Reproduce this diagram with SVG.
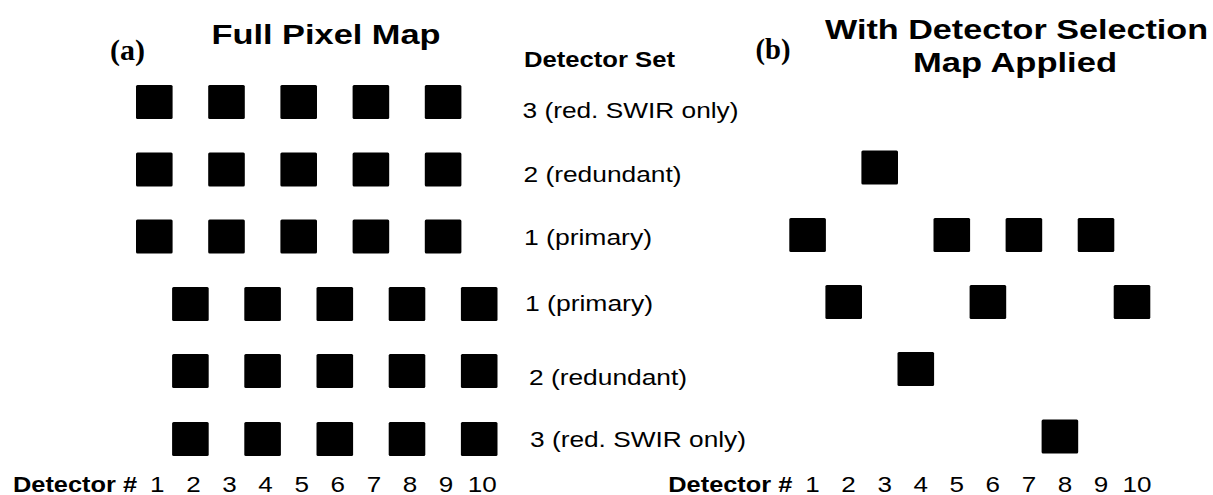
<svg xmlns="http://www.w3.org/2000/svg" width="1213" height="495" viewBox="0 0 1213 495">
  <style>
    .px { fill: #000; }
    .title { font-family: "Liberation Sans", Arial, sans-serif; font-weight: bold; font-size: 28px; fill: #000; }
    .tag { font-family: "Liberation Serif", "Times New Roman", serif; font-weight: bold; font-size: 29px; fill: #000; }
    .head { font-family: "Liberation Sans", Arial, sans-serif; font-weight: bold; font-size: 22px; fill: #000; }
    .lbl { font-family: "Liberation Sans", Arial, sans-serif; font-size: 22px; fill: #000; }
    .num { font-family: "Liberation Sans", Arial, sans-serif; font-size: 22px; fill: #000; text-anchor: middle; }
  </style>
  <defs>
    <rect id="pix" width="36.6" height="34" rx="1.5" ry="1.5"/>
  </defs>
  <rect width="1213" height="495" fill="#fff"/>

  <!-- Panel (a): full pixel map, detector n at x = 136 + (n-1)*36.1 -->
  <g id="panel-a-title">
    <text class="tag" x="110" y="60" textLength="35" lengthAdjust="spacingAndGlyphs">(a)</text>
    <text class="title" x="211.5" y="44.3" textLength="229" lengthAdjust="spacingAndGlyphs">Full Pixel Map</text>
  </g>

  <g id="panel-a-set3-upper" class="px">
    <use href="#pix" x="136" y="85"/>
    <use href="#pix" x="208.2" y="85"/>
    <use href="#pix" x="280.4" y="85"/>
    <use href="#pix" x="352.6" y="85"/>
    <use href="#pix" x="424.8" y="85"/>
  </g>
  <g id="panel-a-set2-upper" class="px">
    <use href="#pix" x="136" y="152.5"/>
    <use href="#pix" x="208.2" y="152.5"/>
    <use href="#pix" x="280.4" y="152.5"/>
    <use href="#pix" x="352.6" y="152.5"/>
    <use href="#pix" x="424.8" y="152.5"/>
  </g>
  <g id="panel-a-set1-upper" class="px">
    <use href="#pix" x="136" y="219.5"/>
    <use href="#pix" x="208.2" y="219.5"/>
    <use href="#pix" x="280.4" y="219.5"/>
    <use href="#pix" x="352.6" y="219.5"/>
    <use href="#pix" x="424.8" y="219.5"/>
  </g>
  <g id="panel-a-set1-lower" class="px">
    <use href="#pix" x="172.1" y="287"/>
    <use href="#pix" x="244.3" y="287"/>
    <use href="#pix" x="316.5" y="287"/>
    <use href="#pix" x="388.7" y="287"/>
    <use href="#pix" x="460.9" y="287"/>
  </g>
  <g id="panel-a-set2-lower" class="px">
    <use href="#pix" x="172.1" y="354"/>
    <use href="#pix" x="244.3" y="354"/>
    <use href="#pix" x="316.5" y="354"/>
    <use href="#pix" x="388.7" y="354"/>
    <use href="#pix" x="460.9" y="354"/>
  </g>
  <g id="panel-a-set3-lower" class="px">
    <use href="#pix" x="172.1" y="422"/>
    <use href="#pix" x="244.3" y="422"/>
    <use href="#pix" x="316.5" y="422"/>
    <use href="#pix" x="388.7" y="422"/>
    <use href="#pix" x="460.9" y="422"/>
  </g>

  <g id="panel-a-axis">
    <text class="head" x="13" y="491.5" textLength="124" lengthAdjust="spacingAndGlyphs">Detector #</text>
    <text class="num" x="157.3" y="491.5" textLength="14.5" lengthAdjust="spacingAndGlyphs">1</text>
    <text class="num" x="193.4" y="491.5" textLength="14.5" lengthAdjust="spacingAndGlyphs">2</text>
    <text class="num" x="229.5" y="491.5" textLength="14.5" lengthAdjust="spacingAndGlyphs">3</text>
    <text class="num" x="265.6" y="491.5" textLength="14.5" lengthAdjust="spacingAndGlyphs">4</text>
    <text class="num" x="301.7" y="491.5" textLength="14.5" lengthAdjust="spacingAndGlyphs">5</text>
    <text class="num" x="337.8" y="491.5" textLength="14.5" lengthAdjust="spacingAndGlyphs">6</text>
    <text class="num" x="373.9" y="491.5" textLength="14.5" lengthAdjust="spacingAndGlyphs">7</text>
    <text class="num" x="410.0" y="491.5" textLength="14.5" lengthAdjust="spacingAndGlyphs">8</text>
    <text class="num" x="446.1" y="491.5" textLength="14.5" lengthAdjust="spacingAndGlyphs">9</text>
    <text class="num" x="482.2" y="491.5" textLength="29" lengthAdjust="spacingAndGlyphs">10</text>
  </g>

  <!-- Detector set legend between the panels -->
  <g id="set-legend">
    <text class="head" x="524" y="66.7" textLength="151" lengthAdjust="spacingAndGlyphs">Detector Set</text>
    <text class="lbl" x="522.5" y="118.3" textLength="216" lengthAdjust="spacingAndGlyphs">3 (red. SWIR only)</text>
    <text class="lbl" x="523.5" y="181.7" textLength="158" lengthAdjust="spacingAndGlyphs">2 (redundant)</text>
    <text class="lbl" x="524" y="245" textLength="128" lengthAdjust="spacingAndGlyphs">1 (primary)</text>
    <text class="lbl" x="525" y="310.7" textLength="128" lengthAdjust="spacingAndGlyphs">1 (primary)</text>
    <text class="lbl" x="529" y="385" textLength="158" lengthAdjust="spacingAndGlyphs">2 (redundant)</text>
    <text class="lbl" x="530" y="447" textLength="216" lengthAdjust="spacingAndGlyphs">3 (red. SWIR only)</text>
  </g>

  <!-- Panel (b): selected detectors only, detector n at x = 789.3 + (n-1)*36.05 -->
  <g id="panel-b-title">
    <text class="tag" x="755.5" y="59" textLength="35" lengthAdjust="spacingAndGlyphs">(b)</text>
    <text class="title" x="825" y="38.5" textLength="383" lengthAdjust="spacingAndGlyphs">With Detector Selection</text>
    <text class="title" x="913" y="72" textLength="204" lengthAdjust="spacingAndGlyphs">Map Applied</text>
  </g>

  <g id="panel-b-set2-upper" class="px">
    <use href="#pix" x="861.4" y="150.5"/>
  </g>
  <g id="panel-b-set1-upper" class="px">
    <use href="#pix" x="789.3" y="218"/>
    <use href="#pix" x="933.5" y="218"/>
    <use href="#pix" x="1005.6" y="218"/>
    <use href="#pix" x="1077.7" y="218"/>
  </g>
  <g id="panel-b-set1-lower" class="px">
    <use href="#pix" x="825.4" y="285"/>
    <use href="#pix" x="969.6" y="285"/>
    <use href="#pix" x="1113.7" y="285"/>
  </g>
  <g id="panel-b-set2-lower" class="px">
    <use href="#pix" x="897.5" y="352"/>
  </g>
  <g id="panel-b-set3-lower" class="px">
    <use href="#pix" x="1041.6" y="419.5"/>
  </g>

  <g id="panel-b-axis">
    <text class="head" x="668.3" y="491.5" textLength="124" lengthAdjust="spacingAndGlyphs">Detector #</text>
    <text class="num" x="812.6" y="491.5" textLength="14.5" lengthAdjust="spacingAndGlyphs">1</text>
    <text class="num" x="848.6" y="491.5" textLength="14.5" lengthAdjust="spacingAndGlyphs">2</text>
    <text class="num" x="884.7" y="491.5" textLength="14.5" lengthAdjust="spacingAndGlyphs">3</text>
    <text class="num" x="920.7" y="491.5" textLength="14.5" lengthAdjust="spacingAndGlyphs">4</text>
    <text class="num" x="956.8" y="491.5" textLength="14.5" lengthAdjust="spacingAndGlyphs">5</text>
    <text class="num" x="992.8" y="491.5" textLength="14.5" lengthAdjust="spacingAndGlyphs">6</text>
    <text class="num" x="1028.9" y="491.5" textLength="14.5" lengthAdjust="spacingAndGlyphs">7</text>
    <text class="num" x="1064.9" y="491.5" textLength="14.5" lengthAdjust="spacingAndGlyphs">8</text>
    <text class="num" x="1101.0" y="491.5" textLength="14.5" lengthAdjust="spacingAndGlyphs">9</text>
    <text class="num" x="1137.0" y="491.5" textLength="29" lengthAdjust="spacingAndGlyphs">10</text>
  </g>
</svg>
